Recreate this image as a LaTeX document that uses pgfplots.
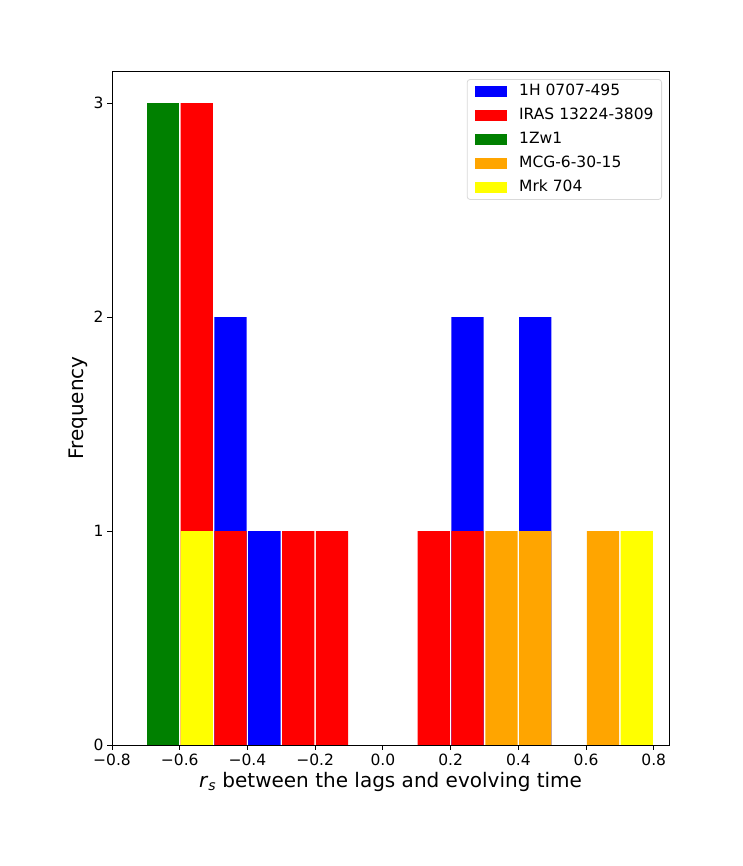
\documentclass[border=0pt]{standalone}
\usepackage{fontspec}
\setmainfont{DejaVu Sans}
\usepackage{pgfplots}
\pgfplotsset{compat=1.18}
\definecolor{mplgreen}{RGB}{0,128,0}
\definecolor{mplorange}{RGB}{255,165,0}
\definecolor{mplyellow}{RGB}{255,255,0}
\pgfplotsset{
  mybar/.style={ybar, bar width=0.0953, bar shift=0, fill=#1, draw=none,
    legend image code/.code={\fill[#1, sharp corners] (0pt,-5.5pt) rectangle (32pt,5.5pt);}},
}
\begin{document}
\begin{tikzpicture}
\path[use as bounding box] (0,0) rectangle (742pt,866pt);
\begin{axis}[
  at={(112pt,121pt)}, anchor=south west,
  scale only axis, width=557pt, height=674pt,
  xmin=-0.8, xmax=0.845, ymin=0, ymax=3.15,
  axis line style={line width=0.8pt, black},
  xtick={-0.8,-0.6,-0.4,-0.2,0,0.2,0.4,0.6,0.8},
  xticklabels={−0.8,−0.6,−0.4,−0.2,0.0,0.2,0.4,0.6,0.8},
  ytick={0,1,2,3},
  yticklabels={0,1,2,3},
  tick align=outside, tick pos=left,
  major tick length=5pt,
  every tick/.style={black, line width=0.8pt},
  ticklabel style={font=\fontsize{15.5}{18}\selectfont},
  xticklabel style={yshift=0pt},
  label style={font=\fontsize{20}{23}\selectfont},
  xlabel={\textit{r}\textsubscript{\textit{s}} between the lags and evolving time},
  ylabel={Frequency},
  xlabel style={yshift=0pt},
  ylabel style={yshift=-1pt},
  legend style={at={(0.9874,0.988)}, anchor=north east,
    draw=black!15, rounded corners=3pt, line width=0.8pt,
    font=\fontsize{15.5}{18}\selectfont,
    inner xsep=8pt, inner ysep=4.5pt,
    nodes={inner sep=0pt, text height=11.5pt, text depth=3.5pt},
    row sep=9pt, column sep=12pt},
  legend cell align=left,
]
\addplot[mybar=blue] coordinates {(-0.45,2) (-0.35,1) (0.25,2) (0.45,2)};
\addlegendentry{1H 0707-495}
\addplot[mybar=red] coordinates {(-0.55,3) (-0.45,1) (-0.25,1) (-0.15,1) (0.15,1) (0.25,1)};
\addlegendentry{IRAS 13224-3809}
\addplot[mybar=mplgreen] coordinates {(-0.65,3)};
\addlegendentry{1Zw1}
\addplot[mybar=mplorange] coordinates {(0.35,1) (0.45,1) (0.65,1)};
\addlegendentry{MCG-6-30-15}
\addplot[mybar=mplyellow] coordinates {(-0.55,1) (0.75,1)};
\addlegendentry{Mrk 704}
\end{axis}
\end{tikzpicture}
\end{document}
